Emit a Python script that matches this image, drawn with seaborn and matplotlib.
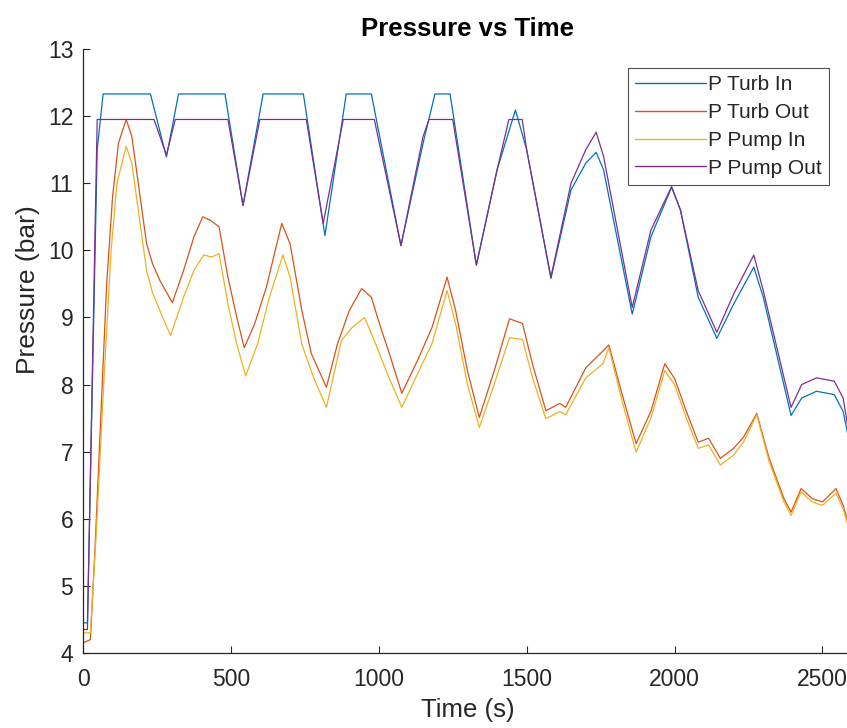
import numpy as np
import pandas as pd
import matplotlib
matplotlib.use("Agg")
import matplotlib.pyplot as plt
import seaborn as sns

# ---- data ----
t_turb_in = [0, 15, 48, 68, 228, 282, 323, 480, 541, 609, 745, 818, 890, 975, 1075, 1150, 1190,
             1241, 1330, 1400, 1462, 1500, 1582, 1650, 1700, 1735, 1760, 1857, 1920, 1990, 2020,
             2080, 2143, 2200, 2268, 2300, 2394, 2430, 2480, 2540, 2570, 2600]
p_turb_in = [4.45, 4.45, 11.5, 12.33, 12.33, 11.39, 12.33, 12.33, 10.67, 12.33, 12.33, 10.22, 12.33,
             12.33, 10.07, 11.6, 12.33, 12.33, 9.78, 11.2, 12.09, 11.5, 9.58, 10.9, 11.3, 11.46, 11.2,
             9.05, 10.2, 10.94, 10.6, 9.3, 8.69, 9.2, 9.75, 9.3, 7.54, 7.8, 7.9, 7.85, 7.6, 6.95]

t_turb_out = [0, 25, 40, 60, 80, 100, 120, 146, 165, 190, 215, 235, 260, 302, 340, 375, 405, 430, 460,
              490, 520, 545, 580, 620, 650, 672, 700, 740, 772, 823, 860, 900, 942, 975, 1010, 1033,
              1078, 1130, 1180, 1231, 1260, 1300, 1340, 1390, 1442, 1486, 1520, 1565, 1612, 1632,
              1700, 1758, 1778, 1820, 1870, 1920, 1967, 2000, 2040, 2080, 2115, 2155, 2200, 2234,
              2278, 2320, 2370, 2394, 2428, 2466, 2500, 2546, 2570, 2600]
p_turb_out = [4.15, 4.2, 5.5, 7.5, 9.5, 10.8, 11.6, 11.95, 11.7, 10.9, 10.1, 9.8, 9.55, 9.22, 9.7, 10.2,
              10.5, 10.45, 10.35, 9.6, 9.0, 8.55, 8.9, 9.45, 10.0, 10.4, 10.1, 9.1, 8.46, 7.96, 8.6,
              9.1, 9.43, 9.3, 8.8, 8.5, 7.87, 8.35, 8.85, 9.6, 9.1, 8.2, 7.51, 8.2, 8.98, 8.91, 8.3,
              7.61, 7.72, 7.66, 8.25, 8.5, 8.59, 7.9, 7.12, 7.6, 8.31, 8.09, 7.6, 7.14, 7.2, 6.9,
              7.05, 7.22, 7.57, 6.9, 6.3, 6.1, 6.45, 6.3, 6.25, 6.45, 6.2, 5.75]

t_pump_in = [0, 25, 45, 70, 95, 115, 146, 165, 190, 215, 235, 260, 296, 340, 375, 408, 435, 460, 490,
             520, 550, 590, 630, 676, 700, 740, 780, 823, 874, 910, 952, 990, 1030, 1078, 1130, 1180,
             1231, 1260, 1300, 1340, 1390, 1442, 1486, 1520, 1565, 1612, 1632, 1700, 1758, 1778,
             1820, 1870, 1920, 1967, 2000, 2040, 2080, 2115, 2155, 2200, 2234, 2278, 2320, 2370,
             2394, 2428, 2466, 2500, 2546, 2570, 2600]
p_pump_in = [4.3, 4.3, 5.8, 8.0, 10.0, 11.0, 11.55, 11.3, 10.5, 9.7, 9.37, 9.1, 8.73, 9.3, 9.7, 9.93,
             9.9, 9.95, 9.2, 8.6, 8.13, 8.6, 9.3, 9.93, 9.6, 8.6, 8.1, 7.66, 8.66, 8.85, 9.0, 8.6,
             8.15, 7.66, 8.15, 8.61, 9.4, 8.9, 8.0, 7.36, 8.0, 8.7, 8.67, 8.1, 7.49, 7.6, 7.55, 8.1,
             8.31, 8.55, 7.8, 6.99, 7.5, 8.21, 8.0, 7.5, 7.05, 7.1, 6.8, 6.95, 7.15, 7.55, 6.85,
             6.25, 6.05, 6.4, 6.25, 6.2, 6.38, 6.15, 5.7]

t_pump_out = [0, 15, 48, 240, 282, 312, 490, 541, 598, 755, 812, 880, 985, 1075, 1150, 1170, 1250,
              1330, 1400, 1440, 1485, 1500, 1582, 1650, 1700, 1735, 1760, 1857, 1920, 1990, 2020,
              2080, 2143, 2200, 2268, 2300, 2394, 2430, 2480, 2540, 2570, 2600]
p_pump_out = [4.35, 4.35, 11.95, 11.95, 11.42, 11.95, 11.95, 10.67, 11.95, 11.95, 10.4, 11.95, 11.95,
              10.07, 11.7, 11.95, 11.95, 9.78, 11.2, 11.95, 11.95, 11.5, 9.6, 11.0, 11.5, 11.76, 11.4,
              9.15, 10.3, 10.95, 10.6, 9.4, 8.78, 9.35, 9.93, 9.4, 7.66, 8.0, 8.1, 8.05, 7.8, 7.0]

series_names = ["P Turb In", "P Turb Out", "P Pump In", "P Pump Out"]
colors = ["#0072BD", "#D95319", "#EDB120", "#7E2F8E"]
x_ticks = [0, 500, 1000, 1500, 2000, 2500]
y_ticks = [4, 5, 6, 7, 8, 9, 10, 11, 12, 13]

frames = []
for name, t, p in zip(series_names,
                      [t_turb_in, t_turb_out, t_pump_in, t_pump_out],
                      [p_turb_in, p_turb_out, p_pump_in, p_pump_out]):
    frames.append(pd.DataFrame({"Time": t, "Pressure": p, "Series": name}))
df = pd.concat(frames, ignore_index=True)

sns.set_theme(style="ticks")
plt.rcParams["font.family"] = ["Liberation Sans", "DejaVu Sans"]

W, H = 847, 728
ax_l, ax_r, ax_t, ax_b = 83, 852, 49, 653
fig = plt.figure(figsize=(W / 100, H / 100), dpi=100)
ax = fig.add_axes([ax_l / W, 1 - ax_b / H, (ax_r - ax_l) / W, (ax_b - ax_t) / H])

sns.lineplot(data=df, x="Time", y="Pressure", hue="Series", hue_order=series_names,
             palette=colors, linewidth=0.9, ax=ax, estimator=None, sort=False)

ax.set_xlim(0, 2600)
ax.set_ylim(4, 13)
ax.set_xticks(x_ticks)
ax.set_yticks(y_ticks)
ax.tick_params(direction="in", length=5, width=0.8, labelsize=16.5, colors="#262626")
ax.tick_params(axis="x", pad=11)
ax.tick_params(axis="y", pad=7)
for s in ["top", "right"]:
    ax.spines[s].set_visible(False)
for s in ["left", "bottom"]:
    ax.spines[s].set_color("#262626")
    ax.spines[s].set_linewidth(0.9)

ax.set_xlabel("Time (s)", fontsize=18.5, color="#262626", labelpad=5)
ax.set_ylabel("Pressure (bar)", fontsize=19, color="#262626")
ax.yaxis.set_label_coords((40 - ax_l) / (ax_r - ax_l), (ax_b - 290) / (ax_b - ax_t))
ax.set_title("Pressure vs Time", fontsize=18.5, fontweight="bold", color="#000000", pad=9)

leg = ax.legend(loc="upper right", fontsize=15, frameon=True, fancybox=False,
                edgecolor="#262626", handlelength=3.4, handletextpad=0.1, borderpad=0.35,
                labelspacing=0.42, borderaxespad=0)
leg.get_frame().set_linewidth(0.8)
leg.set_bbox_to_anchor(((829 - ax_l) / (ax_r - ax_l), 1 - (68 - ax_t) / (ax_b - ax_t)),
                       transform=ax.transAxes)
for line in leg.get_lines():
    line.set_linewidth(1.0)

fig.savefig("out.png", dpi=100)
